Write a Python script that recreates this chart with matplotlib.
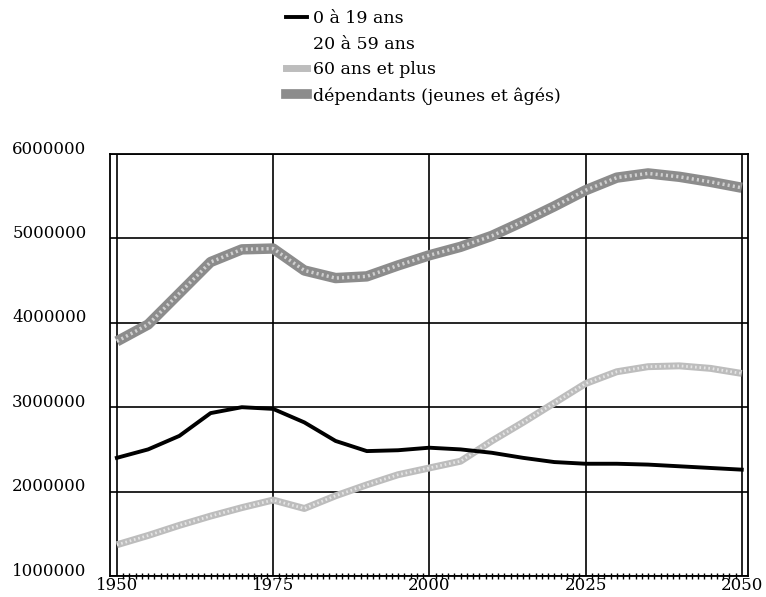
"""Population par groupe d'âge, 1950-2050."""
import matplotlib
matplotlib.use('Agg')
import matplotlib.pyplot as plt
from matplotlib.lines import Line2D
from matplotlib.transforms import ScaledTranslation
import numpy as np

years = [1950, 1955, 1960, 1965, 1970, 1975, 1980, 1985, 1990, 1995, 2000,
         2005, 2010, 2015, 2020, 2025, 2030, 2035, 2040, 2045, 2050]
age_0_19 = [2400000, 2500000, 2660000, 2930000, 3000000, 2980000, 2820000,
            2600000, 2480000, 2490000, 2520000, 2500000, 2460000, 2400000,
            2350000, 2330000, 2330000, 2320000, 2300000, 2280000, 2260000]
age_60_plus = [1370000, 1480000, 1600000, 1710000, 1810000, 1900000, 1800000,
               1950000, 2080000, 2200000, 2280000, 2360000, 2600000, 2820000,
               3050000, 3280000, 3420000, 3480000, 3490000, 3460000, 3400000]
dependants = [3780000, 3980000, 4350000, 4720000, 4870000, 4880000, 4620000,
              4530000, 4550000, 4680000, 4800000, 4900000, 5030000, 5200000,
              5380000, 5570000, 5720000, 5770000, 5730000, 5670000, 5600000]
labels = ['0 à 19 ans', '20 à 59 ans', '60 ans et plus',
          'dépendants (jeunes et âgés)']
xticks = [1950, 1975, 2000, 2025, 2050]
yticks = [1000000, 2000000, 3000000, 4000000, 5000000, 6000000]

plt.rcParams.update({'font.family': 'DejaVu Serif', 'font.size': 11})
fig = plt.figure(figsize=(7.66, 5.97), dpi=100)
ax = fig.add_axes([110 / 766, 21 / 597, 638 / 766, 422 / 597])

# textured bands: grey base + dotted overlay
ax.plot(years, dependants, color='#8c8c8c', lw=7.5, solid_capstyle='butt', zorder=3)
ax.plot(years, dependants, color='white', lw=2.5, ls=(0, (0.6, 0.9)), alpha=0.6, zorder=4)
ax.plot(years, age_60_plus, color='#bdbdbd', lw=5, solid_capstyle='butt', zorder=3)
ax.plot(years, age_60_plus, color='white', lw=2, ls=(0, (0.6, 1.0)), alpha=0.6, zorder=4)
ax.plot(years, age_0_19, color='black', lw=2.8, zorder=5)

ax.set_xlim(1948.9, 2051)
ax.set_ylim(1000000, 6000000)
ax.set_xticks(xticks)
ax.set_xticklabels([str(y) for y in xticks])
ax.set_yticks(yticks)
ax.set_yticklabels([str(v) for v in yticks])
ax.set_xticks(np.arange(1950, 2051, 1), minor=True)
ax.tick_params(axis='x', which='minor', direction='inout', length=5, width=1)
ax.tick_params(axis='x', which='major', length=0, pad=1, labelsize=12)
ax.tick_params(axis='y', which='major', length=0, pad=17, labelsize=12)
up = ScaledTranslation(0, 5 / 72, fig.dpi_scale_trans)
for lab in ax.get_yticklabels():
    lab.set_transform(lab.get_transform() + up)
ax.grid(True, color='black', lw=1.2)
for sp in ax.spines.values():
    sp.set_linewidth(1.3)

handles = [Line2D([0], [0], color='black', lw=2.8),
           Line2D([0], [0], color='white', lw=2.8),
           Line2D([0], [0], color='#bdbdbd', lw=5),
           Line2D([0], [0], color='#8c8c8c', lw=7)]
fig.legend(handles, labels, loc='upper left', bbox_to_anchor=(286 / 766, 1 - 10 / 597),
           frameon=False, fontsize=12.5, handlelength=1.2, handletextpad=0.35,
           labelspacing=0.5, borderaxespad=0, borderpad=0)

fig.savefig('out.png', dpi=100)
